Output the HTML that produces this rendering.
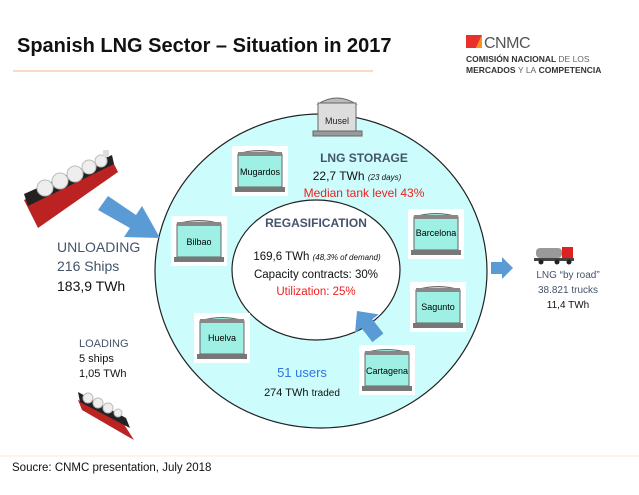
<!DOCTYPE html>
<html><head><meta charset="utf-8"><style>
body{margin:0;width:639px;height:490px;background:#fff;overflow:hidden;font-family:"Liberation Sans",sans-serif}
</style></head><body>
<svg width="639" height="490" viewBox="0 0 639 490" xmlns="http://www.w3.org/2000/svg" font-family="Liberation Sans, sans-serif">
<defs>
<g id="tank">
<rect x="0" y="0" width="56" height="50" fill="#fff"/>
<path d="M6 8 Q28 1 50 8 L50 41 L6 41 Z" fill="#9ff0e4" stroke="#666" stroke-width="1"/>
<rect x="6" y="6" width="44" height="4" fill="#888"/>
<rect x="3" y="41" width="50" height="5" fill="#777"/>
</g>
</defs>
<text x="17" y="52" font-size="20" font-weight="bold" fill="#111">Spanish LNG Sector – Situation in 2017</text>
<line x1="13" y1="71" x2="373" y2="71" stroke="#f4b48c" stroke-width="1"/>
<!-- logo -->
<polygon points="466,35 482,35 476,48 466,48" fill="#e8312a"/>
<polygon points="476,48 482,35 482,48" fill="#f7941d"/>
<text x="484" y="48" font-size="16" fill="#555" letter-spacing="-0.5">CNMC</text>
<text x="466" y="62" font-size="8.5" fill="#333" font-weight="bold">COMISIÓN NACIONAL <tspan font-weight="normal" fill="#666">DE LOS</tspan></text>
<text x="466" y="73" font-size="8.5" fill="#333" font-weight="bold">MERCADOS <tspan font-weight="normal" fill="#666">Y LA</tspan> COMPETENCIA</text>
<!-- circles -->
<ellipse cx="321" cy="271" rx="166" ry="157" fill="#ccfcfc" stroke="#222" stroke-width="1.2"/>
<ellipse cx="316" cy="270" rx="84" ry="70" fill="#fff" stroke="#222" stroke-width="1.2"/>
<!-- Musel -->
<path d="M318 104 Q337 92 356 104 Z" fill="#bbb" stroke="#666"/>
<rect x="318" y="103" width="38" height="29" fill="#ddd" stroke="#666"/>
<rect x="313" y="131" width="49" height="5" fill="#999" stroke="#666"/>
<text x="337" y="124" font-size="9" text-anchor="middle" fill="#222">Musel</text>
<use href="#tank" x="232" y="146"/><text x="260" y="175" font-size="9" text-anchor="middle">Mugardos</text>
<use href="#tank" x="171" y="216"/><text x="199" y="245" font-size="9" text-anchor="middle">Bilbao</text>
<use href="#tank" x="408" y="209"/><text x="436" y="236" font-size="9" text-anchor="middle">Barcelona</text>
<use href="#tank" x="410" y="282"/><text x="438" y="310" font-size="9" text-anchor="middle">Sagunto</text>
<use href="#tank" x="194" y="313"/><text x="222" y="341" font-size="9" text-anchor="middle">Huelva</text>
<use href="#tank" x="359" y="345"/><text x="387" y="374" font-size="9" text-anchor="middle">Cartagena</text>
<!-- storage text -->
<text x="364" y="162" font-size="12" font-weight="bold" fill="#44546a" text-anchor="middle">LNG STORAGE</text>
<text x="357" y="180" font-size="12" fill="#111" text-anchor="middle">22,7 TWh <tspan font-size="8" font-style="italic">(23 days)</tspan></text>
<text x="364" y="197" font-size="12" fill="#f02020" text-anchor="middle">Median tank level 43%</text>
<text x="316" y="227" font-size="12" font-weight="bold" fill="#44546a" text-anchor="middle">REGASIFICATION</text>
<text x="317" y="260" font-size="11.5" fill="#111" text-anchor="middle">169,6 TWh <tspan font-size="8" font-style="italic">(48,3% of demand)</tspan></text>
<text x="316" y="278" font-size="11.5" fill="#111" text-anchor="middle">Capacity contracts: 30%</text>
<text x="316" y="295" font-size="11.5" fill="#f02020" text-anchor="middle">Utilization: 25%</text>
<text x="302" y="377" font-size="13" fill="#2e75e6" text-anchor="middle">51 users</text>
<text x="302" y="396" font-size="11" fill="#111" text-anchor="middle">274 TWh <tspan font-size="10">traded</tspan></text>
<!-- arrows -->
<polygon points="98,210 108,196 136,215 142,206 160,238 124,237 130,228" fill="#5b9bd5"/>
<g transform="translate(357,311) rotate(52)">
<polygon points="0,0 16,-15 16,-7 34,-7 34,7 16,7 16,15" fill="#5b9bd5"/>
</g>
<polygon points="491,262 502,262 502,257 513,268 502,279 502,274 491,274" fill="#5b9bd5"/>
<!-- left text -->
<text x="57" y="252" font-size="14" fill="#44546a">UNLOADING</text>
<text x="57" y="271" font-size="14" fill="#44546a">216 Ships</text>
<text x="57" y="291" font-size="14" fill="#111">183,9 TWh</text>
<text x="79" y="347" font-size="11" fill="#44546a">LOADING</text>
<text x="79" y="362" font-size="11" fill="#111">5 ships</text>
<text x="79" y="377" font-size="11" fill="#111">1,05 TWh</text>
<!-- ship 1 -->
<g>
<polygon points="24,200 112,160 118,172 38,228" fill="#b22"/>
<polygon points="24,194 112,155 114,164 28,206" fill="#222"/>
<circle cx="45" cy="188" r="8" fill="#eee" stroke="#bbb"/>
<circle cx="60" cy="181" r="8" fill="#eee" stroke="#bbb"/>
<circle cx="75" cy="174" r="8" fill="#eee" stroke="#bbb"/>
<circle cx="89" cy="167" r="7" fill="#eee" stroke="#bbb"/>
<circle cx="101" cy="161" r="6" fill="#eee" stroke="#bbb"/>
<rect x="103" y="150" width="6" height="7" fill="#ddd"/>
</g>
<!-- ship 2 -->
<g>
<polygon points="78,400 120,418 134,440 120,432 82,410" fill="#b22"/>
<polygon points="78,392 126,418 130,428 80,402" fill="#222"/>
<circle cx="88" cy="398" r="5" fill="#eee" stroke="#bbb"/>
<circle cx="98" cy="403" r="5" fill="#eee" stroke="#bbb"/>
<circle cx="108" cy="408" r="5" fill="#eee" stroke="#bbb"/>
<circle cx="118" cy="413" r="4" fill="#eee" stroke="#bbb"/>
</g>
<!-- truck -->
<rect x="536" y="248" width="26" height="10" rx="4" fill="#999"/>
<rect x="562" y="247" width="11" height="13" fill="#d22"/>
<rect x="534" y="258" width="40" height="3" fill="#444"/>
<circle cx="541" cy="262" r="2.5" fill="#222"/><circle cx="557" cy="262" r="2.5" fill="#222"/><circle cx="569" cy="262" r="2.5" fill="#222"/>
<text x="568" y="278" font-size="10" fill="#44546a" text-anchor="middle">LNG “by road”</text>
<text x="568" y="293" font-size="10" fill="#44546a" text-anchor="middle">38.821 trucks</text>
<text x="568" y="308" font-size="10" fill="#111" text-anchor="middle">11,4 TWh</text>
<line x1="0" y1="456" x2="639" y2="456" stroke="#fbe8dc" stroke-width="1"/>
<text x="12" y="471" font-size="11.5" fill="#111">Soucre: CNMC presentation, July 2018</text>
</svg>
</body></html>
